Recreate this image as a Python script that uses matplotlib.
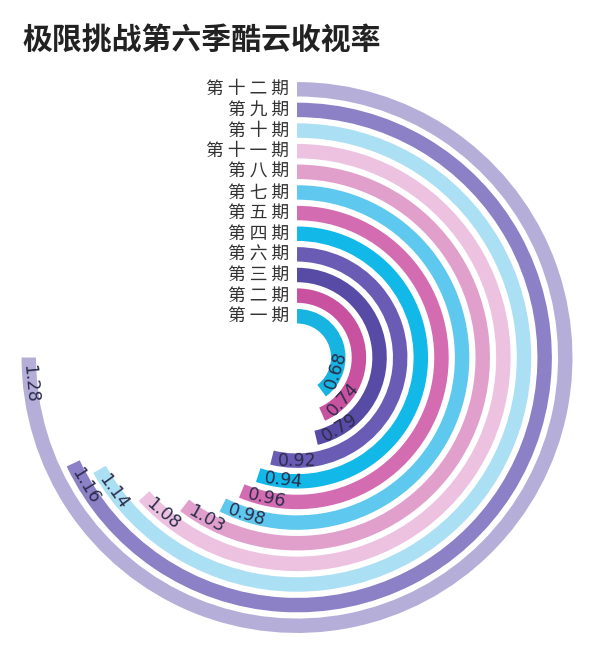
import numpy as np
import matplotlib
matplotlib.use("Agg")
import matplotlib.pyplot as plt

plt.rcParams['font.family'] = ['Noto Sans CJK SC', 'DejaVu Sans']

# inner ring -> outer ring
episodes = ["第一期", "第二期", "第三期", "第六期", "第四期", "第五期",
            "第七期", "第八期", "第十一期", "第十期", "第九期", "第十二期"]
ratings = [0.68, 0.74, 0.79, 0.92, 0.94, 0.96, 0.98, 1.03, 1.08, 1.14, 1.16, 1.28]
colors = ["#17b4e2", "#c8529f", "#574ba6", "#6a5cb4", "#12b9e8", "#d46cb2",
          "#5ec8ef", "#e19fcb", "#ecc2e0", "#abdff4", "#8c80c7", "#b4aed9"]

angle_max = 1.28 / 0.75   # largest bar sweeps 3/4 of the circle

fig = plt.figure(figsize=(6, 6.68), dpi=100)
ax = fig.add_axes([0.0307, 0.0478, 0.9287, 0.834], projection="polar")
ax.set_theta_zero_location("N")
ax.set_theta_direction(-1)

pos = np.arange(len(ratings)) + 2
theta = np.array(ratings) / angle_max * 2 * np.pi
ax.barh(pos, theta, left=0, height=0.7, color=colors, linewidth=0)

ax.set_ylim(0, 13.5)
ax.set_xlim(0, 2 * np.pi)
ax.axis("off")

unit_px = 20.7
for r, v, t, name in zip(pos, ratings, theta, episodes):
    ax.annotate(" ".join(name), xy=(0, r), xytext=(-8, 0), textcoords="offset pixels",
                ha="right", va="center", fontsize=12.8, color="#333333")
    delta = 26 / (r * unit_px)
    tc = t - delta
    ax.text(tc, r, f"{v:.2f}", rotation=180 - np.degrees(tc), rotation_mode="anchor",
            ha="center", va="center", fontsize=12.5, color="#2b2d4a",
            family="DejaVu Sans")

fig.text(0.037, 0.94, "极限挑战第六季酷云收视率", fontsize=21.5, fontweight="bold",
         color="#222222", ha="left", va="center")

fig.savefig("out.png", dpi=100, facecolor="white")
